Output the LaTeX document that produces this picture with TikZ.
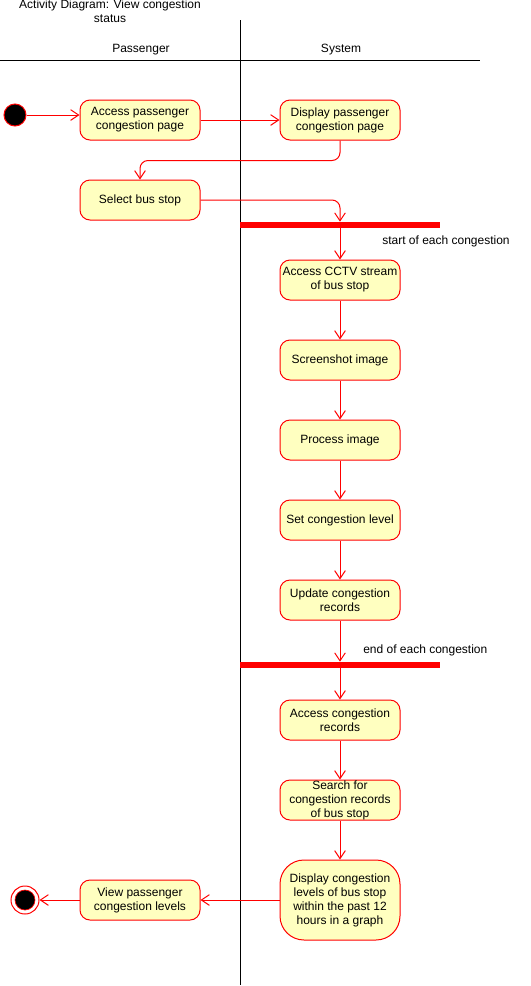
\documentclass[tikz,border=0pt]{standalone}
\usepackage{fontspec}
\setmainfont{Liberation Sans}
\usetikzlibrary{arrows.meta}
\definecolor{umlred}{HTML}{FF0000}
\definecolor{umlfill}{HTML}{FFFFC0}
\begin{document}
\begin{tikzpicture}[x=0.75pt,y=-0.75pt,
  act/.style={draw=umlred, fill=umlfill, rounded corners=7.5pt, minimum width=90pt, minimum height=30pt, inner sep=0pt, align=center, font=\fontsize{9}{10.5}\selectfont, line width=0.75pt},
  flow/.style={draw=umlred, line width=0.75pt, -{Straight Barb[length=6pt,width=8pt]}},
  lbl/.style={font=\fontsize{9}{10.5}\selectfont, inner sep=0pt, align=center},
  lane/.style={draw=black, line width=0.75pt},
  barnode/.style={fill=umlred, minimum width=150pt, minimum height=4.5pt, inner sep=0pt}]
\useasboundingbox (0,0) rectangle (531,986);
% swimlanes
\draw[lane] (240,20) -- (240,985);
\draw[lane] (0,60) -- (480,60);
\node[lbl] (title) at (110,11) {Activity Diagram: View congestion\\status};
\node[lbl] (lp) at (141,50) {Passenger};
\node[lbl] (ls) at (341,50) {System};
% nodes
\node (start) [circle, fill=black, draw=umlred, line width=0.75pt, minimum size=16.5pt, inner sep=0pt] at (15,115) {};
\node[act] (n1) at (140,120) {Access passenger\\congestion page};
\node[act] (n2) at (340,120) {Display passenger\\congestion page};
\node[act] (n3) at (140,200) {Select bus stop};
\node[barnode] (bar1) at (340,225) {};
\node[lbl, anchor=west] (lb1) at (382,241) {start of each congestion};
\node[act] (n4) at (340,280) {Access CCTV stream\\of bus stop};
\node[act] (n5) at (340,360) {Screenshot image};
\node[act] (n6) at (340,440) {Process image};
\node[act] (n7) at (340,520) {Set congestion level};
\node[act] (n8) at (340,600) {Update congestion\\records};
\node[barnode] (bar2) at (340,665) {};
\node[lbl, anchor=west] (lb2) at (363,650) {end of each congestion};
\node[act] (n9) at (340,720) {Access congestion\\records};
\node[act] (n10) at (340,800) {Search for\\congestion records\\of bus stop};
\node[act, minimum height=60pt, rounded corners=18pt] (n11) at (340,900) {Display congestion\\levels of bus stop\\within the past 12\\hours in a graph};
\node[act] (n12) at (140,900) {View passenger\\congestion levels};
\node (end) [circle, draw=umlred, fill=white, line width=0.75pt, minimum size=21pt, inner sep=0pt] at (25,900) {};
\node (endin) [circle, draw=umlred, fill=black, line width=0.5pt, minimum size=15pt, inner sep=0pt] at (end) {};
% flows
\draw[flow] (start.east) -- (n1.west |- start.east);
\draw[flow] (n1.east) -- (n2.west);
\draw[flow, rounded corners=6pt] (n2.south) -- ++(0,20) -| (n3.north);
\draw[flow, rounded corners=6pt] (n3.east) -| (bar1.north);
\draw[flow] (bar1.south) -- (n4.north);
\draw[flow] (n4.south) -- (n5.north);
\draw[flow] (n5.south) -- (n6.north);
\draw[flow] (n6.south) -- (n7.north);
\draw[flow] (n7.south) -- (n8.north);
\draw[flow] (n8.south) -- (bar2.north);
\draw[flow] (bar2.south) -- (n9.north);
\draw[flow] (n9.south) -- (n10.north);
\draw[flow] (n10.south) -- (n11.north);
\draw[flow] (n11.west) -- (n12.east);
\draw[flow] (n12.west) -- (end.east);
\end{tikzpicture}
\end{document}
